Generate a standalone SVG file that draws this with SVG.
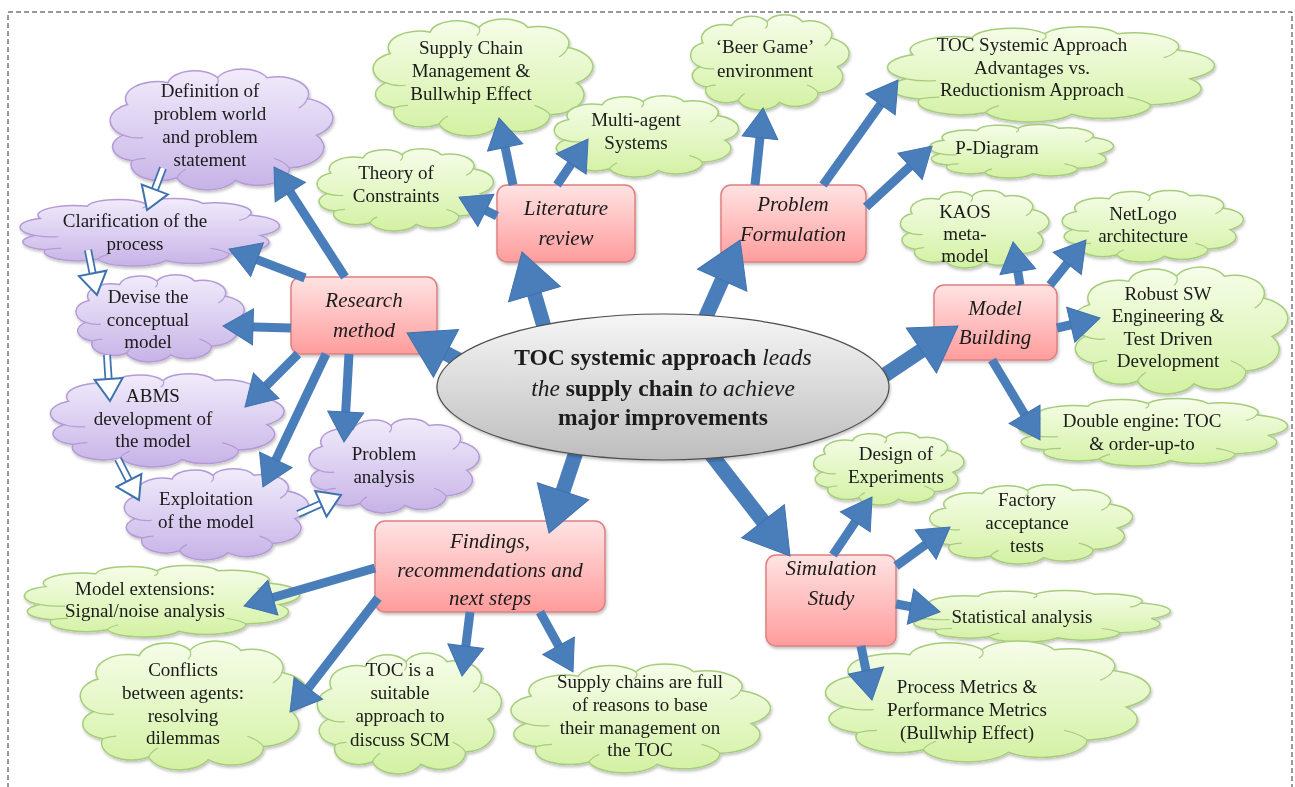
<svg xmlns="http://www.w3.org/2000/svg" width="1295" height="787" viewBox="0 0 1295 787">
<style>
.t{font-family:"Liberation Serif",serif;font-size:19px;fill:#1a1a1a;text-anchor:middle}
.b{font-family:"Liberation Serif",serif;font-size:21px;font-style:italic;fill:#1a1a1a;text-anchor:middle}
.e{font-family:"Liberation Serif",serif;font-size:23.5px;font-weight:bold;fill:#1a1a1a;text-anchor:middle}
.i{font-style:italic;font-weight:normal}
.gc{fill:url(#gGreen);stroke:#a6cd7c;stroke-width:1.5}
.pc{fill:url(#gPurple);stroke:#b49bd8;stroke-width:1.5}
.tk{fill:none;stroke-width:1.2}
.gt{stroke:#a6cd7c}
.pt{stroke:#b49bd8}
.bx{fill:url(#gPink);stroke:#de8080;stroke-width:1.5}
.ar{stroke:#4a7ebb;fill:none}
.s{stroke-width:9}
.L{stroke-width:15}
.ho{stroke:#3f72ad;stroke-width:8;fill:none}
.hi{stroke:#fff;stroke-width:4.5;fill:none}
</style>
<defs>
<linearGradient id="gGreen" x1="0" y1="0" x2="0" y2="1"><stop offset="0" stop-color="#f6fde9"/><stop offset="1" stop-color="#d3f1a3"/></linearGradient>
<linearGradient id="gPurple" x1="0" y1="0" x2="0" y2="1"><stop offset="0" stop-color="#f1ecfb"/><stop offset="1" stop-color="#c7b3e7"/></linearGradient>
<linearGradient id="gPink" x1="0" y1="0" x2="0" y2="1"><stop offset="0" stop-color="#ffe3e3"/><stop offset="1" stop-color="#ff9c9c"/></linearGradient>
<linearGradient id="gGrey" x1="0" y1="0" x2="0" y2="1"><stop offset="0" stop-color="#f6f6f6"/><stop offset="1" stop-color="#bdbdbd"/></linearGradient>
<filter id="sh" x="-10%" y="-10%" width="125%" height="130%"><feDropShadow dx="1" dy="2" stdDeviation="1.5" flood-color="#000" flood-opacity="0.25"/></filter>
<path id="cloud" vector-effect="non-scaling-stroke" d="M8,55 A12,14 0 0 1 10,30 A14,14 0 0 1 28,12 A12,12 0 0 1 50,8 A12,12 0 0 1 72,8 A14,14 0 0 1 90,25 A17,17 0 0 1 94,55 A17,17 0 0 1 82,82 A14,14 0 0 1 58,92 A14,14 0 0 1 32,90 A13,13 0 0 1 12,76 A12,12 0 0 1 8,55 Z"/>
<path id="tucks" vector-effect="non-scaling-stroke" d="M8,55 Q12,58 17,57 M90,25 Q89,30 86,33 M82,82 Q80,77 75,74 M32,90 Q33,86 36,83 M50,8 Q51,12 49,15 M12,76 Q15,74 18,74"/>
<marker id="hS" markerUnits="userSpaceOnUse" viewBox="-2 -20 34 40" markerWidth="34" markerHeight="40" refX="14" refY="0" orient="auto" overflow="visible"><path d="M0,-18 L30,0 L0,18 Z" fill="#4a7ebb" stroke="#3f72ad" stroke-width="1"/></marker>
<marker id="hL" markerUnits="userSpaceOnUse" viewBox="-2 -29 48 58" markerWidth="48" markerHeight="58" refX="22" refY="0" orient="auto" overflow="visible"><path d="M0,-27 L44,0 L0,27 Z" fill="#4a7ebb" stroke="#3f72ad" stroke-width="1"/></marker>
<marker id="hH" markerUnits="userSpaceOnUse" viewBox="-3 -17 28 34" markerWidth="28" markerHeight="34" refX="10" refY="0" orient="auto" overflow="visible"><path d="M0,-14 L22,0 L0,14 Z" fill="#fff" stroke="#3f72ad" stroke-width="2"/></marker>
</defs>
<rect x="0" y="0" width="1295" height="787" fill="#fff"/>
<rect x="8" y="12" width="1284" height="800" fill="none" stroke="#333" stroke-width="1" stroke-dasharray="5,3"/>

<g id="clouds-green">
<g id="n-scm" filter="url(#sh)"><use href="#cloud" class="gc" transform="translate(368,18) scale(2.22,1.18)"/><use href="#tucks" class="tk gt" transform="translate(368,18) scale(2.22,1.18)"/><text class="t" x="471" y="54">Supply Chain</text><text class="t" x="471" y="77">Management &amp;</text><text class="t" x="471" y="100">Bullwhip Effect</text></g>
<g id="n-mas" filter="url(#sh)"><use href="#cloud" class="gc" transform="translate(550,95) scale(1.86,0.82)"/><use href="#tucks" class="tk gt" transform="translate(550,95) scale(1.86,0.82)"/><text class="t" x="636" y="126">Multi-agent</text><text class="t" x="636" y="149">Systems</text></g>
<g id="n-toc" filter="url(#sh)"><use href="#cloud" class="gc" transform="translate(313,148) scale(1.78,0.83)"/><use href="#tucks" class="tk gt" transform="translate(313,148) scale(1.78,0.83)"/><text class="t" x="396" y="179">Theory of</text><text class="t" x="396" y="202">Constraints</text></g>
<g id="n-beer" filter="url(#sh)"><use href="#cloud" class="gc" transform="translate(687,14) scale(1.6,0.96)"/><use href="#tucks" class="tk gt" transform="translate(687,14) scale(1.6,0.96)"/><text class="t" x="765" y="53">‘Beer Game’</text><text class="t" x="765" y="77">environment</text></g>
<g id="n-sys" filter="url(#sh)"><use href="#cloud" class="gc" transform="translate(880,26) scale(3.3,0.96)"/><use href="#tucks" class="tk gt" transform="translate(880,26) scale(3.3,0.96)"/><text class="t" x="1032" y="51">TOC Systemic Approach</text><text class="t" x="1032" y="74">Advantages vs.</text><text class="t" x="1032" y="96">Reductionism Approach</text></g>
<g id="n-pdiag" filter="url(#sh)"><use href="#cloud" class="gc" transform="translate(925,124) scale(1.86,0.54)"/><use href="#tucks" class="tk gt" transform="translate(925,124) scale(1.86,0.54)"/><text class="t" x="997" y="154">P-Diagram</text></g>
<g id="n-kaos" filter="url(#sh)"><use href="#cloud" class="gc" transform="translate(897,190) scale(1.5,0.78)"/><use href="#tucks" class="tk gt" transform="translate(897,190) scale(1.5,0.78)"/><text class="t" x="965" y="218">KAOS</text><text class="t" x="965" y="240">meta-</text><text class="t" x="965" y="262">model</text></g>
<g id="n-netlogo" filter="url(#sh)"><use href="#cloud" class="gc" transform="translate(1058,190) scale(1.83,0.72)"/><use href="#tucks" class="tk gt" transform="translate(1058,190) scale(1.83,0.72)"/><text class="t" x="1143" y="220">NetLogo</text><text class="t" x="1143" y="242">architecture</text></g>
<g id="n-robust" filter="url(#sh)"><use href="#cloud" class="gc" transform="translate(1068,266) scale(2.17,1.28)"/><use href="#tucks" class="tk gt" transform="translate(1068,266) scale(2.17,1.28)"/><text class="t" x="1168" y="300">Robust  SW</text><text class="t" x="1168" y="322">Engineering &amp;</text><text class="t" x="1168" y="345">Test Driven</text><text class="t" x="1168" y="367">Development</text></g>
<g id="n-double" filter="url(#sh)"><use href="#cloud" class="gc" transform="translate(1012,398) scale(2.72,0.68)"/><use href="#tucks" class="tk gt" transform="translate(1012,398) scale(2.72,0.68)"/><text class="t" x="1142" y="427">Double engine: TOC</text><text class="t" x="1142" y="450">&amp; order-up-to</text></g>
<g id="n-doe" filter="url(#sh)"><use href="#cloud" class="gc" transform="translate(810,432) scale(1.52,0.73)"/><use href="#tucks" class="tk gt" transform="translate(810,432) scale(1.52,0.73)"/><text class="t" x="896" y="460">Design of</text><text class="t" x="896" y="483">Experiments</text></g>
<g id="n-fat" filter="url(#sh)"><use href="#cloud" class="gc" transform="translate(925,484) scale(2.05,0.8)"/><use href="#tucks" class="tk gt" transform="translate(925,484) scale(2.05,0.8)"/><text class="t" x="1027" y="506">Factory</text><text class="t" x="1027" y="529">acceptance</text><text class="t" x="1027" y="552">tests</text></g>
<g id="n-stat" filter="url(#sh)"><use href="#cloud" class="gc" transform="translate(905,590) scale(2.62,0.52)"/><use href="#tucks" class="tk gt" transform="translate(905,590) scale(2.62,0.52)"/><text class="t" x="1022" y="623">Statistical analysis</text></g>
<g id="n-metrics" filter="url(#sh)"><use href="#cloud" class="gc" transform="translate(818,640) scale(3.28,1.22)"/><use href="#tucks" class="tk gt" transform="translate(818,640) scale(3.28,1.22)"/><text class="t" x="967" y="693">Process Metrics &amp;</text><text class="t" x="967" y="716">Performance Metrics</text><text class="t" x="967" y="739">(Bullwhip Effect)</text></g>
<g id="n-full" filter="url(#sh)"><use href="#cloud" class="gc" transform="translate(505,663) scale(2.62,1.1)"/><use href="#tucks" class="tk gt" transform="translate(505,663) scale(2.62,1.1)"/><text class="t" x="640" y="688">Supply chains are full</text><text class="t" x="640" y="711">of reasons to base</text><text class="t" x="640" y="734">their management on</text><text class="t" x="640" y="756">the TOC</text></g>
<g id="n-suitable" filter="url(#sh)"><use href="#cloud" class="gc" transform="translate(313,652) scale(1.86,1.22)"/><use href="#tucks" class="tk gt" transform="translate(313,652) scale(1.86,1.22)"/><text class="t" x="400" y="676">TOC is a</text><text class="t" x="400" y="699">suitable</text><text class="t" x="400" y="722">approach to</text><text class="t" x="400" y="746">discuss SCM</text></g>
<g id="n-conflicts" filter="url(#sh)"><use href="#cloud" class="gc" transform="translate(75,640) scale(2.3,1.3)"/><use href="#tucks" class="tk gt" transform="translate(75,640) scale(2.3,1.3)"/><text class="t" x="183" y="676">Conflicts</text><text class="t" x="183" y="699">between agents:</text><text class="t" x="183" y="722">resolving</text><text class="t" x="183" y="744">dilemmas</text></g>
<g id="n-ext" filter="url(#sh)"><use href="#cloud" class="gc" transform="translate(18,565) scale(2.78,0.72)"/><use href="#tucks" class="tk gt" transform="translate(18,565) scale(2.78,0.72)"/><text class="t" x="145" y="595">Model extensions:</text><text class="t" x="145" y="617">Signal/noise analysis</text></g>
</g>

<g id="clouds-purple">
<g id="n-def" filter="url(#sh)"><use href="#cloud" class="pc" transform="translate(105,68) scale(2.25,1.22)"/><use href="#tucks" class="tk pt" transform="translate(105,68) scale(2.25,1.22)"/><text class="t" x="210" y="97">Definition of</text><text class="t" x="210" y="120">problem world</text><text class="t" x="210" y="143">and problem</text><text class="t" x="210" y="166">statement</text></g>
<g id="n-clar" filter="url(#sh)"><use href="#cloud" class="pc" transform="translate(14,198) scale(2.62,0.68)"/><use href="#tucks" class="tk pt" transform="translate(14,198) scale(2.62,0.68)"/><text class="t" x="135" y="227">Clarification of the</text><text class="t" x="135" y="250">process</text></g>
<g id="n-devise" filter="url(#sh)"><use href="#cloud" class="pc" transform="translate(72,274) scale(1.7,0.88)"/><use href="#tucks" class="tk pt" transform="translate(72,274) scale(1.7,0.88)"/><text class="t" x="148" y="303">Devise the</text><text class="t" x="148" y="326">conceptual</text><text class="t" x="148" y="348">model</text></g>
<g id="n-abms" filter="url(#sh)"><use href="#cloud" class="pc" transform="translate(45,373) scale(2.36,0.94)"/><use href="#tucks" class="tk pt" transform="translate(45,373) scale(2.36,0.94)"/><text class="t" x="153" y="402">ABMS</text><text class="t" x="153" y="425">development of</text><text class="t" x="153" y="447">the model</text></g>
<g id="n-exploit" filter="url(#sh)"><use href="#cloud" class="pc" transform="translate(120,468) scale(1.86,0.92)"/><use href="#tucks" class="tk pt" transform="translate(120,468) scale(1.86,0.92)"/><text class="t" x="206" y="505">Exploitation</text><text class="t" x="206" y="528">of the model</text></g>
<g id="n-panalysis" filter="url(#sh)"><use href="#cloud" class="pc" transform="translate(305,418) scale(1.72,0.95)"/><use href="#tucks" class="tk pt" transform="translate(305,418) scale(1.72,0.95)"/><text class="t" x="384" y="460">Problem</text><text class="t" x="384" y="483">analysis</text></g>
</g>

<g id="boxes">
<g id="n-research" filter="url(#sh)"><rect class="bx" x="291" y="277" width="146" height="77" rx="10"/><text class="b" x="364" y="307">Research</text><text class="b" x="364" y="337">method</text></g>
<g id="n-lit" filter="url(#sh)"><rect class="bx" x="497" y="185" width="138" height="77" rx="10"/><text class="b" x="566" y="215">Literature</text><text class="b" x="566" y="245">review</text></g>
<g id="n-pf" filter="url(#sh)"><rect class="bx" x="721" y="185" width="145" height="77" rx="10"/><text class="b" x="793" y="211">Problem</text><text class="b" x="793" y="241">Formulation</text></g>
<g id="n-mb" filter="url(#sh)"><rect class="bx" x="934" y="285" width="123" height="75" rx="10"/><text class="b" x="995" y="315">Model</text><text class="b" x="995" y="344">Building</text></g>
<g id="n-find" filter="url(#sh)"><rect class="bx" x="375" y="521" width="230" height="91" rx="10"/><text class="b" x="490" y="548">Findings,</text><text class="b" x="490" y="577">recommendations and</text><text class="b" x="490" y="605">next steps</text></g>
<g id="n-sim" filter="url(#sh)"><rect class="bx" x="766" y="555" width="130" height="91" rx="10"/><text class="b" x="831" y="575">Simulation</text><text class="b" x="831" y="605">Study</text></g>
</g>

<g id="connectors">
<line class="ar L" x1="470" y1="366" x2="426.5" y2="343.2" marker-end="url(#hL)"/>
<line class="ar L" x1="545" y1="330" x2="528.2" y2="273.1" marker-end="url(#hL)"/>
<line class="ar L" x1="700" y1="330" x2="731.1" y2="260.1" marker-end="url(#hL)"/>
<line class="ar L" x1="870" y1="385" x2="939.7" y2="338.3" marker-end="url(#hL)"/>
<line class="ar L" x1="700" y1="440" x2="776.5" y2="538.6" marker-end="url(#hL)"/>
<line class="ar L" x1="580" y1="440" x2="556" y2="512.1" marker-end="url(#hL)"/>

<line class="ar s" x1="345" y1="277" x2="282.7" y2="180.4" marker-end="url(#hS)"/>
<line class="ar s" x1="305" y1="278" x2="244" y2="254.7" marker-end="url(#hS)"/>
<line class="ar s" x1="291" y1="328" x2="239" y2="326.5" marker-end="url(#hS)"/>
<line class="ar s" x1="298" y1="354" x2="256.3" y2="395.7" marker-end="url(#hS)"/>
<line class="ar s" x1="326" y1="354" x2="269.8" y2="472.5" marker-end="url(#hS)"/>
<line class="ar s" x1="349" y1="354" x2="344.9" y2="426" marker-end="url(#hS)"/>

<line class="ar s" x1="513" y1="185" x2="502.3" y2="133.7" marker-end="url(#hS)"/>
<line class="ar s" x1="557" y1="185" x2="579.1" y2="152.3" marker-end="url(#hS)"/>
<line class="ar s" x1="497" y1="216" x2="473.3" y2="204.2" marker-end="url(#hS)"/>

<line class="ar s" x1="755" y1="185" x2="761.4" y2="123.9" marker-end="url(#hS)"/>
<line class="ar s" x1="823" y1="185" x2="888.7" y2="93" marker-end="url(#hS)"/>
<line class="ar s" x1="866" y1="207" x2="920.3" y2="156.9" marker-end="url(#hS)"/>

<line class="ar s" x1="1020" y1="285" x2="1015.6" y2="257.8" marker-end="url(#hS)"/>
<line class="ar s" x1="1050" y1="285" x2="1076" y2="252.5" marker-end="url(#hS)"/>
<line class="ar s" x1="1057" y1="328" x2="1084.4" y2="321.6" marker-end="url(#hS)"/>
<line class="ar s" x1="992" y1="360" x2="1031.8" y2="426.3" marker-end="url(#hS)"/>

<line class="ar s" x1="833" y1="555" x2="863.1" y2="510.3" marker-end="url(#hS)"/>
<line class="ar s" x1="896" y1="566" x2="937" y2="536.4" marker-end="url(#hS)"/>
<line class="ar s" x1="896" y1="604" x2="924.3" y2="609.1" marker-end="url(#hS)"/>
<line class="ar s" x1="861" y1="646" x2="868.8" y2="684.3" marker-end="url(#hS)"/>

<line class="ar s" x1="375" y1="568" x2="259.4" y2="601.5" marker-end="url(#hS)"/>
<line class="ar s" x1="378" y1="598" x2="299.8" y2="699.3" marker-end="url(#hS)"/>
<line class="ar s" x1="470" y1="612" x2="464" y2="660.1" marker-end="url(#hS)"/>
<line class="ar s" x1="540" y1="612" x2="565.3" y2="658" marker-end="url(#hS)"/>

<line class="ho" x1="163" y1="168" x2="151.3" y2="198.8"/><line class="hi" x1="163" y1="168" x2="151.3" y2="198.8" marker-end="url(#hH)"/>
<line class="ho" x1="88" y1="250" x2="94.6" y2="283.2"/><line class="hi" x1="88" y1="250" x2="94.6" y2="283.2" marker-end="url(#hH)"/>
<line class="ho" x1="107" y1="355" x2="109.2" y2="389"/><line class="hi" x1="107" y1="355" x2="109.2" y2="389" marker-end="url(#hH)"/>
<line class="ho" x1="118" y1="459" x2="133.5" y2="489.3"/><line class="hi" x1="118" y1="459" x2="133.5" y2="489.3" marker-end="url(#hH)"/>
<line class="ho" x1="298" y1="514" x2="330" y2="499.8"/><line class="hi" x1="298" y1="514" x2="330" y2="499.8" marker-end="url(#hH)"/>
</g>

<g id="n-center" filter="url(#sh)">
<ellipse cx="663" cy="387" rx="226" ry="73" fill="url(#gGrey)" stroke="#4d4d4d" stroke-width="1.2"/>
<text class="e" x="663" y="365">TOC systemic approach <tspan class="i">leads</tspan></text>
<text class="e" x="663" y="396"><tspan class="i">the</tspan> supply chain <tspan class="i">to achieve</tspan></text>
<text class="e" x="663" y="425">major improvements</text>
</g>
</svg>
